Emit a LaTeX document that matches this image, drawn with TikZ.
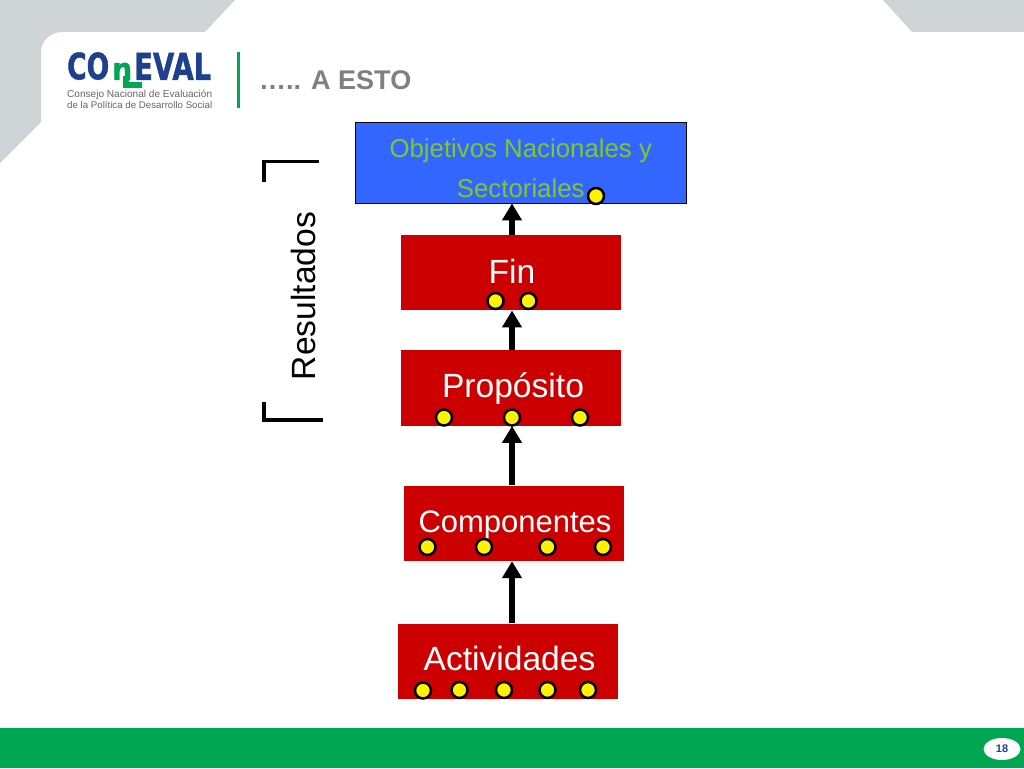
\documentclass[tikz,border=0pt]{standalone}
\usepackage{graphicx}
\usepackage{fontspec}
\setmainfont{Liberation Sans}
\newfontfamily\logofont[BoldFeatures={FakeBold=1.5}]{DejaVu Sans}
\usetikzlibrary{arrows.meta,positioning,shapes.geometric}
\definecolor{slidegrey}{HTML}{CFD4D6}
\definecolor{slidegreen}{HTML}{00A651}
\definecolor{logoblue}{HTML}{1F3F8F}
\definecolor{boxred}{HTML}{CC0000}
\definecolor{boxblue}{HTML}{3366FF}
\definecolor{objgreen}{HTML}{80C828}
\begin{document}
\begin{tikzpicture}[x=1pt,y=-1pt,>={Triangle[width=19pt,length=17pt]},on grid,
	levelbox/.style={fill=boxred,text=white,minimum width=220pt,minimum height=75.5pt,inner sep=0pt,text height=24pt,font=\fontsize{33.6}{40}\selectfont},
	objbox/.style={draw=black,line width=0.8pt,fill=boxblue,text=objgreen,minimum width=330.5pt,minimum height=80.5pt,inner sep=0pt,align=center,font=\fontsize{25.8}{40}\selectfont},
	dotnode/.style={circle,draw=black,line width=2.5pt,fill=yellow,minimum size=16pt,inner sep=0pt},
	levelarrow/.style={->,line width=6.5pt},
	bracketline/.style={line width=3.5pt},
	logotext/.style={anchor=south west,inner sep=0pt,font=\logofont\bfseries}]
	\useasboundingbox (0,0) rectangle (1024,768);
	\fill[white] (0,0) rectangle (1024,768);
	% slide template
	\fill[slidegrey] (0,0) -- (235,0) -- (205,32) -- (62,32) to[out=180,in=90] (41,52) -- (41,122) -- (0,163) -- cycle;
	\fill[slidegrey] (883,0) -- (912,32) -- (1024,32) -- (1024,0) -- cycle;
	\fill[slidegreen] (0,728) rectangle (1024,768);
	\node[ellipse,fill=white,minimum width=37pt,minimum height=22pt,inner sep=0pt,text=logoblue,font=\fontsize{11}{11}\selectfont\bfseries] (page) at (1002,749) {18};
	% logo
	\node[logotext,text=logoblue] (logoa) at (67,80) {\resizebox{42pt}{27pt}{CO}};
	\node[logotext,text=slidegreen] (logob) at (112,80) {\resizebox{20pt}{17pt}{n}};
	\draw[slidegreen,line width=6pt] (126,76) -- (126,85) -- (142,85);
	\node[logotext,text=logoblue] (logoc) at (134,80) {\resizebox{77pt}{27pt}{EVAL}};
	\node[anchor=west,inner sep=0pt,text=black!60] (logod) at (67,94.5) {\resizebox{145pt}{!}{Consejo Nacional de Evaluación}};
	\node[anchor=west,inner sep=0pt,text=black!60] (logoe) at (67,104.5) {\resizebox{145pt}{!}{de la Política de Desarrollo Social}};
	\fill[slidegreen] (237,52) rectangle (240,108);
	\node[anchor=base west,inner sep=0pt,text=black!50,font=\fontsize{27}{27}\selectfont\bfseries] (title) at (259,89) {….. A ESTO};
	% levels
	\node[objbox]                                       (obj)  at (520.75,162.75) {\rule{0pt}{29pt}Objetivos Nacionales y\\Sectoriales};
	\node[levelbox,text depth=1.6pt] (fin)  [below left =109.75pt and 9.75pt of obj] {\hspace*{2pt}Fin};
	\node[levelbox,text depth=5pt]   (prop) [below =115.5pt of fin]                  {\hspace*{4pt}Propósito};
	\node[levelbox,text depth=5pt,font=\fontsize{31}{40}\selectfont] (comp) [below right =135.25pt and 2.5pt of prop] {\hspace*{3pt}Componentes};
	\node[levelbox,text depth=6pt]   (act)  [below left =138pt and 5.5pt of comp]    {\hspace*{3pt}Actividades};
	\coordinate (axis) at (512,0);
	\draw[levelarrow] (act.north -| axis)  -- (comp.south -| axis);
	\draw[levelarrow] (comp.north -| axis) -- (prop.south -| axis);
	\draw[levelarrow] (prop.north -| axis) -- (fin.south -| axis);
	\draw[levelarrow] (fin.north -| axis)  -- (obj.south -| axis);
	% dots
	\foreach \n/\x/\y in {o1/596/196,f1/495.5/301,f2/528.5/301,p1/444/417.5,p2/512/417.5,p3/580/417.5,
		c1/427.5/547,c2/484/547,c3/547.5/547,c4/603/547,
		a1/423/690.5,a2/459.5/690,a3/504/690,a4/547.5/690,a5/588/690}
		\node[dotnode] (\n) at (\x,\y) {};
	% bracket
	\node[rotate=90,anchor=base,inner sep=0pt,font=\fontsize{33.6}{40}\selectfont] (res) at (315.5,296) {Resultados};
	\draw[bracketline] (319,161.5) -- (264,161.5) -- (264,182);
	\draw[bracketline] (264,402) -- (264,420) -- (323,420);
\end{tikzpicture}
\end{document}
